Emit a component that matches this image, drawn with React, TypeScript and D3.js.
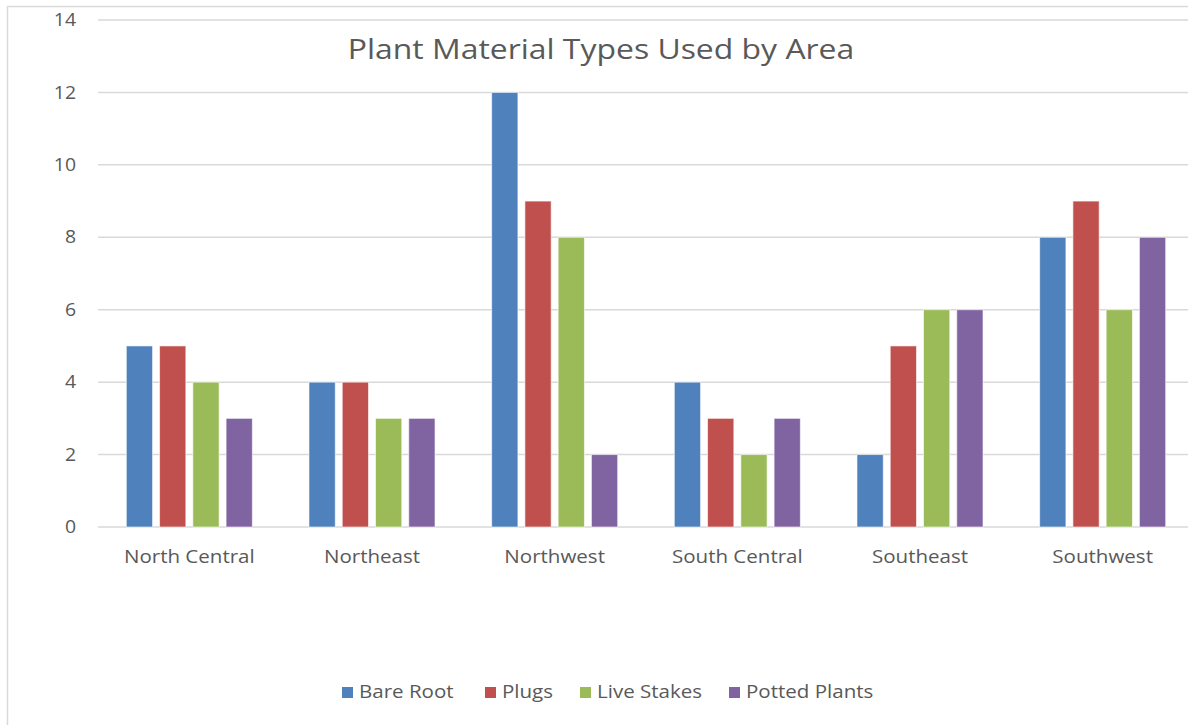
import React from 'react'
import * as d3 from 'd3'

const categories = ['North Central', 'Northeast', 'Northwest', 'South Central', 'Southeast', 'Southwest']
const seriesNames = ['Bare Root', 'Plugs', 'Live Stakes', 'Potted Plants']
const bareRoot = [5, 4, 12, 4, 2, 8]
const plugs = [5, 4, 9, 3, 5, 9]
const liveStakes = [4, 3, 8, 2, 6, 6]
const pottedPlants = [3, 3, 2, 3, 6, 8]
const yTicks = [0, 2, 4, 6, 8, 10, 12, 14]
const colors = ['#4f81bd', '#c0504d', '#9bbb59', '#8064a2']

const WIDTH = 1188
const HEIGHT = 725
const FONT = '"Open Sans", Lato, sans-serif'
const TEXT = '#595959'
const SX = 1.11 // reference text is a bit wider than it is tall

// text drawn slightly stretched horizontally
function Label(props: {
  x: number
  y: number
  size: number
  anchor?: 'start' | 'middle' | 'end'
  sx?: number
  children: React.ReactNode
}) {
  const { x, y, size, anchor = 'start', sx = SX, children } = props
  return (
    <text
      transform={`translate(${x},${y}) scale(${sx},1)`}
      dy="0.35em"
      textAnchor={anchor}
      fontSize={size}
      fill={TEXT}
    >
      {children}
    </text>
  )
}

export default function App() {
  const series = [bareRoot, plugs, liveStakes, pottedPlants]

  const x0 = d3.scaleBand().domain(categories).range([98, 1194]).paddingInner(0.31).paddingOuter(0.155)
  const x1 = d3.scaleBand().domain(seriesNames).range([0, x0.bandwidth()]).paddingInner(0.21)
  const y = d3.scaleLinear().domain([0, 14]).range([527, 20])

  // legend layout
  const legendX = [342, 485, 580, 729]

  return (
    <svg
      width={WIDTH}
      height={HEIGHT}
      style={{ position: 'absolute', left: 0, top: 0, background: '#fff' }}
      fontFamily={FONT}
    >
      <rect x={7.5} y={6.5} width={1200} height={740} fill="#fff" stroke="#d9d9d9" strokeWidth={1.5} />

      {/* gridlines */}
      {yTicks.map((t) => (
        <g key={t}>
          <line x1={98} x2={1194} y1={y(t)} y2={y(t)} stroke="#d9d9d9" strokeWidth={1.5} />
          <Label x={76} y={y(t)} size={17.5} anchor="end">
            {t}
          </Label>
        </g>
      ))}

      {/* bars */}
      {categories.map((c, ci) => (
        <g key={c} transform={`translate(${x0(c)},0)`}>
          {seriesNames.map((s, si) => (
            <rect
              key={s}
              x={x1(s)}
              y={y(series[si][ci])}
              width={x1.bandwidth()}
              height={y(0) - y(series[si][ci])}
              fill={colors[si]}
              stroke="#ffffff"
              strokeOpacity={0.6}
              strokeWidth={1}
            />
          ))}
          <Label x={x0.bandwidth() / 2} y={557} size={18.5} anchor="middle">
            {c}
          </Label>
        </g>
      ))}

      <Label x={601} y={49} size={28} anchor="middle" sx={1.14}>
        Plant Material Types Used by Area
      </Label>

      {/* legend */}
      {seriesNames.map((s, i) => (
        <g key={s} transform={`translate(${legendX[i]},0)`}>
          <rect x={0} y={687} width={11} height={11} fill={colors[i]} />
          <Label x={17} y={692} size={18.5}>
            {s}
          </Label>
        </g>
      ))}
    </svg>
  )
}
